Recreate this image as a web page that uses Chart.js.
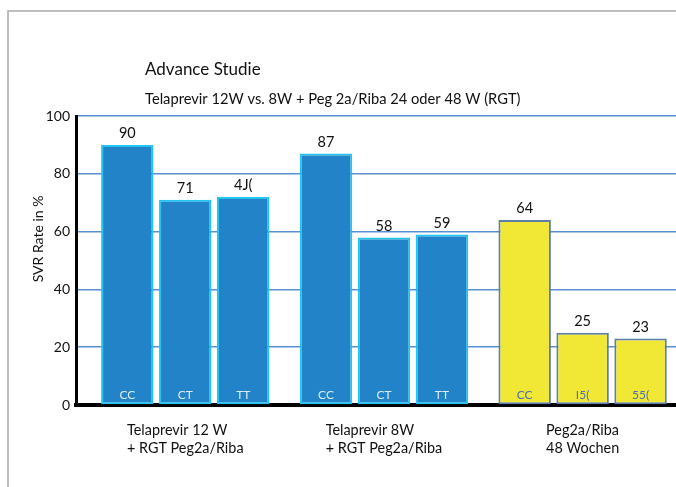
<!DOCTYPE html>
<html>
<head>
<meta charset="utf-8">
<script src="https://cdn.jsdelivr.net/npm/chart.js@4/dist/chart.umd.min.js"></script>
<style>
  html, body { margin: 0; padding: 0; background: #fff; overflow: hidden; }
  #wrap { position: relative; width: 676px; height: 487px; }
</style>
</head>
<body>
<div id="wrap"><canvas id="c" width="676" height="487"></canvas></div>
<script>
// Treatment arms (x groups) and SVR rates per IL28B genotype
const groups = [
  ['Telaprevir 12 W', '+ RGT Peg2a/Riba'],
  ['Telaprevir 8W', '+ RGT Peg2a/Riba'],
  ['Peg2a/Riba', '48 Wochen']
];
const ccValues = [90, 87, 64];
const ctValues = [71, 58, 25];
const ttValues = [72, 59, 23];

// Text printed above each bar
const ccValueLabels = ['90', '87', '64'];
const ctValueLabels = ['71', '58', '25'];
const ttValueLabels = ['4J(', '59', '23'];

// Text printed at the foot of each bar
const ccGenotype = ['CC', 'CC', 'CC'];
const ctGenotype = ['CT', 'CT', 'I5('];
const ttGenotype = ['TT', 'TT', '55('];

const yTicks = [0, 20, 40, 60, 80, 100];

const chartTitle = 'Advance Studie';
const chartSubtitle = 'Telaprevir 12W vs. 8W + Peg 2a/Riba 24 oder 48 W (RGT)';
const yTitle = 'SVR Rate in %';

const FONT = 'Lato, "Open Sans", sans-serif';
const fillColors = ['#2283c9', '#2283c9', '#f0e834'];
const edgeColors = ['#22c4f2', '#22c4f2', '#5d7ea8'];
const footColors = ['#dcedf9', '#dcedf9', '#4a6db5'];

function series(values) {
  return values.map((v, i) => ({ x: i, y: v }));
}

const barLabels = {
  id: 'barLabels',
  beforeDraw(chart) {
    const ctx = chart.ctx;
    ctx.save();
    ctx.strokeStyle = '#a9a9a9';
    ctx.lineWidth = 1.5;
    ctx.beginPath();
    ctx.moveTo(8, 487);
    ctx.lineTo(8, 11);
    ctx.lineTo(676, 11);
    ctx.stroke();
    ctx.restore();
  },
  afterDatasetsDraw(chart) {
    const ctx = chart.ctx;
    ctx.save();
    ctx.textAlign = 'center';
    chart.data.datasets.forEach((ds, di) => {
      const meta = chart.getDatasetMeta(di);
      meta.data.forEach((bar, i) => {
        ctx.font = '14.5px ' + FONT;
        ctx.fillStyle = '#111';
        ctx.textBaseline = 'bottom';
        ctx.fillText(ds.valueLabels[i], bar.x, bar.y - 4);
        ctx.font = '12px ' + FONT;
        ctx.fillStyle = footColors[i];
        ctx.textBaseline = 'middle';
        ctx.fillText(ds.footLabels[i], bar.x, bar.base - 9);
      });
    });
    ctx.restore();
  },
  afterDraw(chart) {
    const ctx = chart.ctx;
    const area = chart.chartArea;
    const xs = chart.scales.x;
    ctx.save();
    ctx.fillStyle = '#111';
    ctx.textAlign = 'left';
    ctx.textBaseline = 'middle';
    ctx.font = '17px ' + FONT;
    ctx.fillText(chartTitle, 145, 70);
    ctx.font = '14.7px ' + FONT;
    ctx.fillText(chartSubtitle, 145, 99);

    // group captions, left-aligned block centred under each group
    ctx.font = '14.4px ' + FONT;
    groups.forEach((lines, i) => {
      const cx = xs.getPixelForValue(i);
      const w = Math.max(...lines.map(l => ctx.measureText(l).width));
      lines.forEach((l, k) => {
        ctx.fillText(l, cx - w / 2, area.bottom + 25 + k * 18);
      });
    });

    // y axis title
    ctx.translate(38, 239);
    ctx.rotate(-Math.PI / 2);
    ctx.textAlign = 'center';
    ctx.font = '14px ' + FONT;
    ctx.fillText(yTitle, 0, 0);
    ctx.restore();
  }
};

function makeSet(label, values, valueLabels, footLabels) {
  return {
    label,
    data: series(values),
    valueLabels,
    footLabels,
    backgroundColor: fillColors,
    borderColor: edgeColors,
    borderWidth: 2,
    borderSkipped: false,
    categoryPercentage: 0.875,
    barPercentage: 0.905
  };
}

new Chart(document.getElementById('c'), {
  type: 'bar',
  data: {
    datasets: [
      makeSet('CC', ccValues, ccValueLabels, ccGenotype),
      makeSet('CT', ctValues, ctValueLabels, ctGenotype),
      makeSet('TT', ttValues, ttValueLabels, ttGenotype)
    ]
  },
  options: {
    responsive: false,
    animation: false,
    layout: { padding: { top: 116, right: 0, bottom: 74, left: 0 } },
    plugins: {
      legend: { display: false },
      tooltip: { enabled: false },
      title: { display: false }
    },
    scales: {
      x: {
        type: 'linear',
        min: -0.55,
        max: 2.47,
        offset: false,
        afterBuildTicks(s) { s.ticks = groups.map((g, i) => ({ value: i })); },
        grid: { display: false, offset: false },
        ticks: { display: false },
        border: { display: true, color: '#000', width: 4 }
      },
      y: {
        min: 0,
        max: 100,
        afterFit(s) { s.width = 76; },
        afterBuildTicks(s) { s.ticks = yTicks.map(v => ({ value: v })); },
        grid: { color: '#5b8fd3', lineWidth: 1.5, drawTicks: false },
        border: { display: true, color: '#000', width: 3 },
        ticks: {
          padding: 6,
          color: '#111',
          font: { family: FONT, size: 14 }
        }
      }
    }
  },
  plugins: [barLabels]
});
</script>
</body>
</html>
